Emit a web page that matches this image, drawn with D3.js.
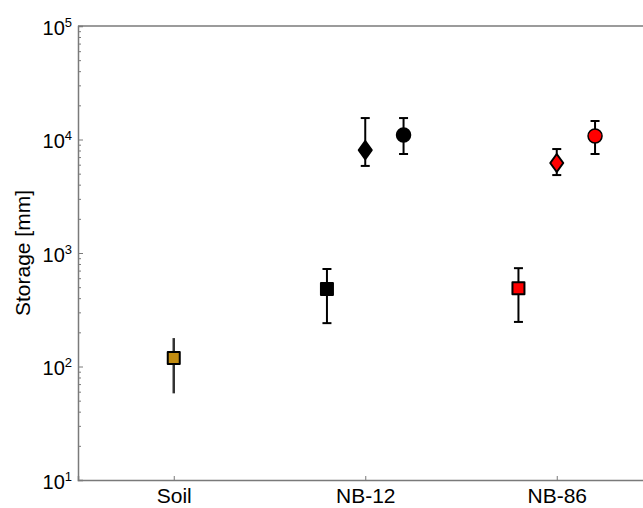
<!DOCTYPE html>
<html>
<head>
<meta charset="utf-8">
<script src="https://cdn.jsdelivr.net/npm/d3@7"></script>
<style>
  body { margin: 0; background: #fff; }
  text { font-family: "Liberation Sans", Arial, sans-serif; fill: #000; }
</style>
</head>
<body>
<div id="container"></div>
<script>
// Data
const categories = ["Soil", "NB-12", "NB-86"];
const pointCategory = ["Soil", "NB-12", "NB-12", "NB-12", "NB-86", "NB-86", "NB-86"];
const pointShape = ["square", "square", "diamond", "circle", "square", "diamond", "circle"];
const storage = [119, 482, 8070, 10960, 490, 6210, 10740];
const storageLow = [58, 241, 5850, 7450, 247, 4860, 7450];
const storageHigh = [178, 723, 15450, 15450, 735, 8240, 14560];
const yTicks = [1e1, 1e2, 1e3, 1e4, 1e5];
const categoryColor = { "Soil": "#c28c10", "NB-12": "#000000", "NB-86": "#ff0000" };

const points = storage.map((v, i) => ({
    cat: pointCategory[i], shape: pointShape[i], value: v, lo: storageLow[i], hi: storageHigh[i]
}));

// Chart dimensions
const width = 643;
const height = 508;
const margin = { top: 26, left: 78, bottom: 28 };
const plotW = 574.5; // plot continues past the right edge of the picture

const svg = d3.select("#container").append("svg")
    .attr("width", width)
    .attr("height", height);

const g = svg.append("g").attr("transform", `translate(${margin.left},${margin.top})`);
const innerH = height - margin.top - margin.bottom;

const x = d3.scaleLinear().domain([0.5, 3.5]).range([0, plotW]);
const y = d3.scaleLog().domain([10, 1e5]).range([innerH, 0]);

// offset of each shape inside its category
const offsetFor = {};
categories.forEach(c => {
    const shapes = pointShape.filter((s, i) => pointCategory[i] === c);
    offsetFor[c] = d3.scalePoint().domain(shapes).range([-0.2, 0.2]);
});
const px = d => x(categories.indexOf(d.cat) + 1 + offsetFor[d.cat](d.shape));

const axisColor = "#7a7a7a";

// frame top line
g.append("line")
    .attr("x1", 0).attr("x2", width).attr("y1", 0).attr("y2", 0)
    .attr("stroke", axisColor).attr("stroke-width", 1.5);

// minor y ticks
const minors = [];
[10, 100, 1000, 10000].forEach(b => { for (let k = 2; k <= 9; k++) minors.push(b * k); });
g.append("g")
    .call(d3.axisLeft(y).tickValues(minors).tickSize(-3).tickFormat(""))
    .call(a => a.select(".domain").remove())
    .call(a => a.selectAll("line").attr("stroke", axisColor));

// major y ticks
const yAxis = g.append("g")
    .call(d3.axisLeft(y).tickValues(yTicks).tickSize(-5).tickFormat(""));
yAxis.select(".domain").attr("stroke", axisColor).attr("stroke-width", 1.5);
yAxis.selectAll("line").attr("stroke", axisColor);

const lbl = yAxis.selectAll(".tick").append("text")
    .attr("x", -6)
    .attr("y", 8)
    .attr("text-anchor", "end")
    .attr("font-size", 20);
lbl.append("tspan").text("10");
lbl.append("tspan")
    .attr("dy", -8)
    .attr("font-size", 13)
    .text(d => Math.round(Math.log10(d)));

// x axis
const xAxis = g.append("g")
    .attr("transform", `translate(0,${innerH})`)
    .call(d3.axisBottom(x).tickValues([1, 2, 3]).tickSize(-4).tickPadding(8)
        .tickFormat(d => categories[d - 1]));
xAxis.select(".domain").attr("stroke", axisColor).attr("stroke-width", 1.5);
xAxis.selectAll("line").attr("stroke", axisColor);
xAxis.selectAll("text").attr("font-size", 21).attr("fill", "#000");

// y label
svg.append("text")
    .attr("transform", `translate(30,${margin.top + innerH / 2}) rotate(-90)`)
    .attr("text-anchor", "middle")
    .attr("font-size", 21)
    .text("Storage [mm]");

// error bars
const eb = g.append("g").selectAll("g").data(points).join("g");
eb.append("line")
    .attr("x1", px).attr("x2", px)
    .attr("y1", d => y(d.lo)).attr("y2", d => y(d.hi))
    .attr("stroke", d => d.cat === "Soil" ? "#333" : "#000")
    .attr("stroke-width", d => d.cat === "Soil" ? 2.5 : 2);
eb.filter(d => d.cat !== "Soil").each(function(d) {
    const s = d3.select(this);
    [d.lo, d.hi].forEach(v => {
        s.append("line")
            .attr("x1", px(d) - 4.5).attr("x2", px(d) + 4.5)
            .attr("y1", y(v)).attr("y2", y(v))
            .attr("stroke", "#000").attr("stroke-width", 2);
    });
});

// markers
function shapePath(shape) {
    if (shape === "square") return "M-6,-6H6V6H-6Z";
    return "M0,-9L6.5,0L0,9L-6.5,0Z"; // diamond
}
const mk = g.append("g").selectAll("g").data(points).join("g")
    .attr("transform", d => `translate(${px(d)},${y(d.value)})`);
mk.filter(d => d.shape !== "circle").append("path")
    .attr("d", d => shapePath(d.shape))
    .attr("fill", d => categoryColor[d.cat])
    .attr("stroke", "#000").attr("stroke-width", 2).attr("stroke-linejoin", "round");
mk.filter(d => d.shape === "circle").append("circle")
    .attr("r", 7)
    .attr("fill", d => categoryColor[d.cat])
    .attr("stroke", "#000").attr("stroke-width", 1.5);
</script>
</body>
</html>
